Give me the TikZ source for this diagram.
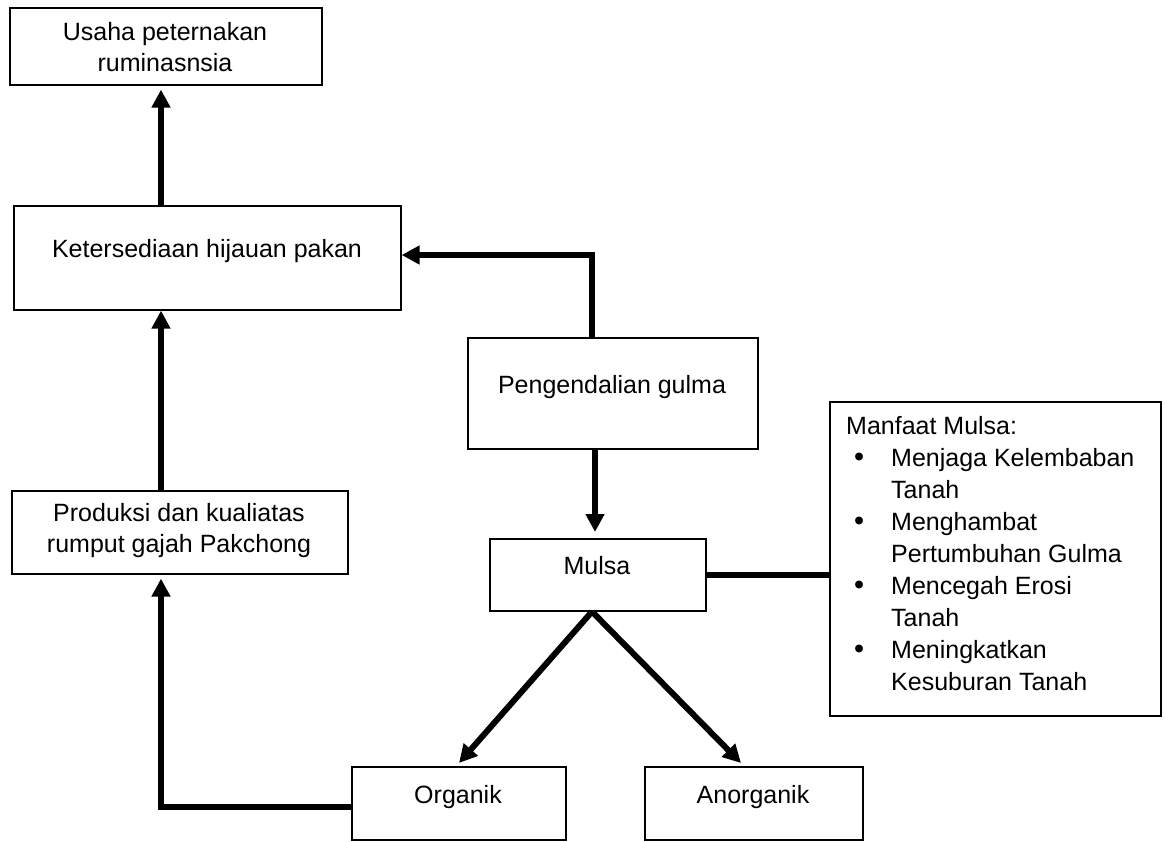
\documentclass[tikz,border=0pt]{standalone}
\usepackage{fontspec}
\setmainfont{Liberation Sans}
\usetikzlibrary{arrows.meta}
\newcommand\bulitem{\hspace*{8pt}\makebox[10pt][c]{\scalebox{1.15}{\textbullet}}\hspace*{27pt}}
\newcommand\indline{\hspace*{45pt}}
\begin{document}
\begin{tikzpicture}[x=1pt,y=-1pt,
  box/.style={draw, line width=1.6pt, inner sep=0pt, anchor=north west},
  txt/.style={font=\fontsize{25}{31}\selectfont, align=center, inner sep=0pt},
  arr/.style={line width=6pt, -{Triangle[length=18pt,width=18pt]}},
  lnk/.style={line width=6pt}]
\useasboundingbox (0,0) rectangle (1165,841);
% boxes
\node[box, minimum width=312pt, minimum height=77pt]  (b1) at (9,7) {};
\node[box, minimum width=387pt, minimum height=104pt] (b2) at (13,205) {};
\node[box, minimum width=290pt, minimum height=111pt] (b3) at (467,337) {};
\node[box, minimum width=216pt, minimum height=72pt]  (b4) at (489,538) {};
\node[box, minimum width=331pt, minimum height=314pt] (b5) at (829,401) {};
\node[box, minimum width=336pt, minimum height=83pt]  (b6) at (11,490) {};
\node[box, minimum width=214pt, minimum height=73pt]  (b7) at (351,766) {};
\node[box, minimum width=218pt, minimum height=73pt]  (b8) at (644,766) {};
% texts
\node[txt] (t1) at (165,47) {Usaha peternakan\\ruminasnsia};
\node[txt, anchor=base] (t2) at (207,257) {Ketersediaan hijauan pakan};
\node[txt, anchor=base] (t3) at (612,393) {Pengendalian gulma};
\node[txt, anchor=base] (t4) at (597,574) {Mulsa};
\node[txt] (t6) at (179,531) {Produksi dan kualiatas\\rumput gajah Pakchong};
\node[txt, anchor=base] (t7) at (458,803) {Organik};
\node[txt, anchor=base] (t8) at (753,803) {Anorganik};
\node[anchor=north west, inner sep=0pt, font=\fontsize{25}{32}\selectfont] (t5) at (846,412)
  {\begin{tabular}{@{}l@{}}
   Manfaat Mulsa:\\
   \bulitem Menjaga Kelembaban\\
   \indline Tanah\\
   \bulitem Menghambat\\
   \indline Pertumbuhan Gulma\\
   \bulitem Mencegah Erosi\\
   \indline Tanah\\
   \bulitem Meningkatkan\\
   \indline Kesuburan Tanah
   \end{tabular}};
% helper coordinates
\coordinate (xL) at (161,0);
\coordinate (xR) at (592,0);
\coordinate (xM) at (595,0);
\coordinate (yO) at (0,807);
\coordinate (yK) at (0,255);
\coordinate (yM) at (0,575);
\coordinate (tipO) at (459,763);
\coordinate (tipA) at (741,763);
% connectors
\draw[arr, shorten >=4pt] (b2.north -| xL) -- (b1.south -| xL);
\draw[arr] (b6.north -| xL) -- (b2.south -| xL);
\draw[arr, shorten >=4pt] (b7.west |- yO) -| (b6.south -| xL);
\draw[arr] (b3.north -| xR) |- (b2.east |- yK);
\draw[arr, shorten >=6pt] (b3.south -| xM) -- (b4.north -| xM);
\draw[lnk] (b4.east |- yM) -- (b5.west |- yM);
\draw[arr] (b4.south -| xR) -- (tipO);
\draw[arr] (b4.south -| xR) -- (tipA);
\end{tikzpicture}
\end{document}
